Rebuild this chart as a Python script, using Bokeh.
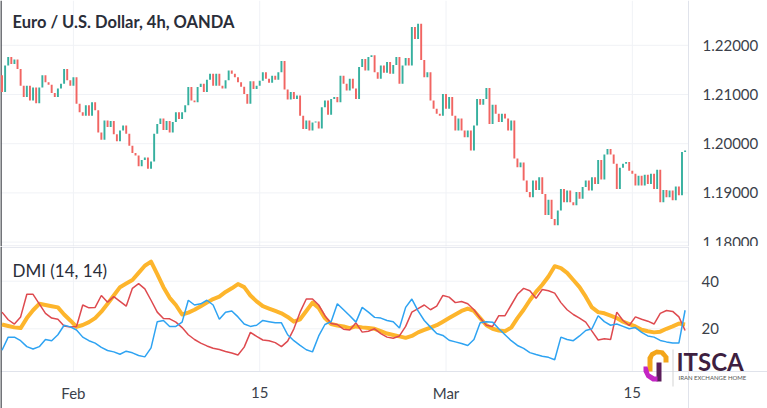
from bokeh.plotting import figure
from bokeh.layouts import column
from bokeh.models import ColumnDataSource, Label, Range1d
from bokeh.core.properties import value
from bokeh.embed import file_html
from bokeh.resources import INLINE

# ---------------- data (EUR/USD 4h) ----------------
first_open = 1.2139
close = [
    1.2105, 1.2159, 1.2176, 1.2162, 1.2171, 1.2152, 1.2118, 1.2095, 1.2118, 1.2088,
    1.2114, 1.2082, 1.2114, 1.2139, 1.2125, 1.2120, 1.2103, 1.2095, 1.2112, 1.2122,
    1.2152, 1.2129, 1.2118, 1.2135, 1.2081, 1.2064, 1.2057, 1.2078, 1.2057, 1.2084,
    1.2068, 1.2023, 1.2008, 1.2047, 1.2034, 1.2046, 1.2019, 1.2005, 1.2027, 1.2037,
    1.2020, 1.1996, 1.1981, 1.1976, 1.1954, 1.1967, 1.1972, 1.1949, 1.1964, 1.2020,
    1.2040, 1.2051, 1.2028, 1.2046, 1.2023, 1.2044, 1.2064, 1.2050, 1.2064, 1.2078,
    1.2115, 1.2088, 1.2084, 1.2115, 1.2122, 1.2105, 1.2130, 1.2142, 1.2118, 1.2142,
    1.2118, 1.2112, 1.2129, 1.2149, 1.2142, 1.2135, 1.2125, 1.2116, 1.2101, 1.2081,
    1.2127, 1.2111, 1.2118, 1.2128, 1.2145, 1.2132, 1.2124, 1.2138, 1.2130, 1.2145,
    1.2168, 1.2110, 1.2090, 1.2105, 1.2091, 1.2098, 1.2057, 1.2030, 1.2047, 1.2027,
    1.2043, 1.2045, 1.2031, 1.2074, 1.2088, 1.2059, 1.2091, 1.2095, 1.2084, 1.2138,
    1.2122, 1.2108, 1.2132, 1.2112, 1.2091, 1.2156, 1.2172, 1.2149, 1.2176, 1.2180,
    1.2145, 1.2132, 1.2159, 1.2144, 1.2166, 1.2142, 1.2160, 1.2176, 1.2122, 1.2159,
    1.2174, 1.2159, 1.2237, 1.2213, 1.2244, 1.2170, 1.2135, 1.2145, 1.2088, 1.2071,
    1.2061, 1.2057, 1.2101, 1.2071, 1.2095, 1.2057, 1.2027, 1.2051, 1.2027, 1.2013,
    1.2027, 1.1986, 1.2037, 1.2091, 1.2079, 1.2091, 1.2113, 1.2040, 1.2079, 1.2061,
    1.2044, 1.2061, 1.2051, 1.2027, 1.2047, 1.1970, 1.1952, 1.1962, 1.1925, 1.1902,
    1.1891, 1.1925, 1.1906, 1.1932, 1.1898, 1.1855, 1.1886, 1.1847, 1.1834, 1.1864,
    1.1908, 1.1881, 1.1905, 1.1881, 1.1875, 1.1902, 1.1888, 1.1912, 1.1925, 1.1905,
    1.1932, 1.1918, 1.1967, 1.1927, 1.1978, 1.1989, 1.1978, 1.1959, 1.1908, 1.1951,
    1.1959, 1.1963, 1.1945, 1.1939, 1.1915, 1.1935, 1.1915, 1.1937, 1.1918, 1.1939,
    1.1908, 1.1947, 1.1881, 1.1906, 1.1891, 1.1905, 1.1885, 1.1913, 1.1895, 1.1983,
    1.1986,
]

tick_bars = [23, 83, 143, 203]
tick_labels = ["Feb", "15", "Mar", "15"]
price_ticks = [1.18, 1.19, 1.20, 1.21, 1.22]
price_tick_labels = ["1.18000", "1.19000", "1.20000", "1.21000", "1.22000"]
dmi_ticks = [20, 40]
dmi_tick_labels = ["20", "40"]
dmi_step = 2  # DMI values read on every 2nd bar

adx = [
    21.8, 21.2, 20.6, 20.3, 24.5, 27.8, 30.5, 30.0, 29.5, 29.0,
    26.0, 23.5, 20.8, 21.6, 22.8, 24.5, 27.2, 30.5, 34.0, 37.5,
    39.0, 40.5, 43.5, 46.5, 48.2, 43.0, 37.5, 33.0, 30.0, 26.0,
    26.8, 28.0, 29.5, 31.0, 32.5, 33.5, 35.5, 37.0, 38.8, 37.5,
    34.0, 31.5, 29.5, 28.5, 27.5, 26.5, 25.0, 23.0, 24.0, 27.5,
    31.0, 28.8, 24.5, 22.0, 21.4, 21.0, 20.3, 21.0, 20.6, 20.3,
    20.0, 19.0, 18.0, 17.4, 16.8, 16.2, 17.0, 18.5, 19.5, 20.5,
    21.5, 23.0, 24.5, 26.0, 27.5, 28.5, 27.5, 24.5, 21.5, 20.0,
    19.3, 19.0, 20.5, 24.5, 28.0, 32.0, 35.5, 38.5, 42.0, 46.3,
    45.5, 43.5, 40.5, 37.5, 33.5, 29.0, 27.0, 26.5, 25.5, 24.5,
    23.0, 22.0, 21.0, 19.6, 19.0, 18.5, 18.8, 20.0, 21.0, 22.2,
    21.8,
]
plus_di = [
    11.0, 16.5, 16.5, 15.0, 12.5, 11.5, 12.5, 15.5, 15.0, 17.5,
    21.5, 20.8, 19.5, 16.5, 15.0, 14.0, 12.2, 10.9, 10.3, 9.3,
    10.6, 9.9, 8.8, 8.2, 12.0, 23.0, 23.5, 21.0, 21.0, 22.8,
    32.0, 30.0, 30.5, 32.0, 30.0, 24.0, 27.0, 27.5, 25.0, 22.0,
    21.0, 21.5, 23.5, 23.0, 22.5, 22.5, 17.5, 15.0, 13.0, 11.2,
    10.3, 17.0, 21.8, 23.0, 30.5, 28.0, 25.5, 22.8, 29.0, 27.0,
    24.8, 24.5, 23.5, 23.0, 20.3, 29.0, 32.5, 27.5, 23.5, 20.7,
    18.0, 17.2, 15.2, 14.5, 13.8, 13.0, 15.5, 22.5, 23.0, 22.8,
    20.0, 17.5, 15.0, 13.0, 11.8, 10.0, 9.2, 8.5, 8.0, 7.0,
    16.5, 15.5, 15.0, 17.0, 19.3, 20.0, 25.5, 23.0, 21.5, 22.0,
    21.0, 20.0, 20.5, 18.5, 17.0, 16.5, 15.1, 14.5, 14.0, 14.0,
    27.8,
]
minus_di = [
    27.0, 23.8, 22.0, 25.0, 34.5, 34.5, 30.5, 26.5, 24.5, 24.0,
    21.2, 20.8, 21.0, 30.0, 28.8, 29.0, 34.0, 31.2, 33.5, 31.5,
    29.5, 37.0, 39.0, 36.8, 32.0, 27.0, 24.3, 24.2, 22.8, 20.5,
    17.5, 15.5, 14.0, 12.8, 11.8, 11.3, 10.5, 9.8, 9.0, 12.3,
    18.5, 16.8, 15.3, 15.0, 14.2, 12.5, 14.8, 20.0, 27.0, 32.5,
    32.5, 30.0, 25.5, 22.2, 21.8, 19.8, 19.5, 22.5, 18.6, 19.0,
    20.0, 18.0, 16.5, 16.0, 17.0, 21.0, 27.0, 28.5, 30.0, 28.0,
    29.5, 34.0, 33.3, 31.0, 31.5, 30.5, 28.0, 24.5, 21.5, 21.0,
    25.5, 25.5, 30.0, 34.5, 37.0, 36.0, 32.8, 36.5, 36.0, 35.0,
    31.0, 28.0, 26.0, 24.5, 22.8, 19.0, 15.3, 15.8, 15.5, 27.0,
    23.5, 21.4, 25.0, 24.0, 23.2, 22.0, 26.5, 27.7, 27.3, 25.0,
    19.3,
]

# ---------------- derived tables ----------------
opens = [first_open] + close[:-1]
bars = list(range(len(close)))
up = dict(x=[], top=[], bottom=[])
dn = dict(x=[], top=[], bottom=[])
for b, o, c in zip(bars, opens, close):
    d = up if c >= o else dn
    d["x"].append(b)
    d["top"].append(max(o, c))
    d["bottom"].append(min(o, c))
dmi_x = [i * dmi_step for i in range(len(adx))]
dmi_src = ColumnDataSource(dict(x=dmi_x, adx=adx, pdi=plus_di, mdi=minus_di))

# ---------------- geometry / styling ----------------
FONT = "Lato"
GRID = "#f0f2f6"
AXLINE = "#e0e3eb"
TXT = "#2a2e39"
LBL = "#3b3f4a"
DARK = "#3a3d44"
W = 767
PX_PER_BAR = 3.105
BAR0_PX = 1.5
PANE_PX = 688          # right edge of the plotting panes (price scale starts here)
SPLIT = 246            # page y where the DMI pane starts


def bx(px):            # horizontal pixel -> bar index
    return (px - BAR0_PX) / PX_PER_BAR


def pv(py):            # page y pixel -> price (1.21 at y=94, 49.2 px per 0.01)
    return 1.21 + (94 - py) / 4920


def dv(py):            # page y pixel -> DMI value (20 at y=328.3, 2.38 px per unit)
    return 20 + (328.3 - py) / 2.38


X0, X1, XW = bx(0), bx(PANE_PX), bx(W)


def base(height, ylo, yhi):
    f = figure(width=W, height=height, x_range=Range1d(X0, XW), y_range=Range1d(ylo, yhi),
               output_backend="svg", toolbar_location=None, x_axis_location=None,
               y_axis_location=None, min_border_left=0, min_border_right=0,
               min_border_top=0, min_border_bottom=0)
    f.outline_line_color = None
    f.background_fill_color = "white"
    f.border_fill_color = "white"
    f.grid.visible = False
    return f


# ---------------- price pane ----------------
P_TOP, P_BOT = pv(0), pv(SPLIT)
p1 = base(SPLIT, P_BOT, P_TOP)
n = len(price_ticks)
p1.segment(x0=[X0] * n, x1=[X1] * n, y0=price_ticks, y1=price_ticks, line_color=GRID, line_width=1)
p1.segment(x0=tick_bars, x1=tick_bars, y0=[P_BOT] * 4, y1=[P_TOP] * 4, line_color=GRID, line_width=1)
p1.segment(x0=[X1], x1=[X1], y0=[P_BOT], y1=[P_TOP], line_color=AXLINE, line_width=1)
p1.segment(x0=[X0], x1=[X1], y0=[pv(245.5)], y1=[pv(245.5)], line_color=AXLINE, line_width=1)
p1.segment(x0=[X0 + 0.15], x1=[X0 + 0.15], y0=[P_BOT], y1=[P_TOP], line_color=DARK, line_width=1.5)

p1.vbar(x="x", width=0.62, top="top", bottom="bottom", source=ColumnDataSource(up),
        fill_color="#36b09f", line_color=None)
p1.vbar(x="x", width=0.62, top="top", bottom="bottom", source=ColumnDataSource(dn),
        fill_color="#f16562", line_color=None)

p1.text(x=[bx(PANE_PX + 14)] * n, y=price_ticks, text=price_tick_labels,
        text_font=value(FONT), text_font_size="15px", text_color=LBL,
        text_baseline="middle", text_align="left")
p1.add_layout(Label(x=bx(12), y=pv(21), text="Euro / U.S. Dollar, 4h, OANDA",
                    text_font=FONT, text_font_size="16.5px", text_font_style="bold",
                    text_color=TXT, text_baseline="middle"))

# ---------------- DMI pane ----------------
VTOP, VBOT = dv(SPLIT), dv(408)
V_AXIS = dv(371)       # time-axis line
p2 = base(408 - SPLIT, VBOT, VTOP)
m = len(dmi_ticks)
p2.segment(x0=[X0] * m, x1=[X1] * m, y0=dmi_ticks, y1=dmi_ticks, line_color=GRID, line_width=1)
p2.segment(x0=tick_bars, x1=tick_bars, y0=[V_AXIS] * 4, y1=[VTOP] * 4, line_color=GRID, line_width=1)
p2.segment(x0=[X0], x1=[XW], y0=[V_AXIS], y1=[V_AXIS], line_color=AXLINE, line_width=1)
p2.segment(x0=[X1], x1=[X1], y0=[VBOT], y1=[VTOP], line_color=AXLINE, line_width=1)
p2.segment(x0=[X0], x1=[X1], y0=[dv(246.8)], y1=[dv(246.8)], line_color=AXLINE, line_width=1)
p2.segment(x0=[X0 + 0.15], x1=[X0 + 0.15], y0=[VBOT], y1=[VTOP], line_color=DARK, line_width=1.5)

p2.line("x", "adx", source=dmi_src, line_color="#fdb52c", line_width=4, line_join="round")
p2.line("x", "mdi", source=dmi_src, line_color="#de4a4f", line_width=1.5)
p2.line("x", "pdi", source=dmi_src, line_color="#2ea3f2", line_width=1.5)

p2.text(x=[bx(PANE_PX + 13)] * m, y=dmi_ticks, text=dmi_tick_labels,
        text_font=value(FONT), text_font_size="15px", text_color=LBL,
        text_baseline="middle", text_align="left")
p2.text(x=tick_bars, y=[dv(392)] * 4, text=tick_labels,
        text_font=value(FONT), text_font_size="15px", text_color=LBL,
        text_baseline="middle", text_align="center")
p2.add_layout(Label(x=bx(12), y=dv(270), text="DMI (14, 14)", text_font=FONT,
                    text_font_size="17px", text_color=TXT, text_baseline="middle"))


# ---------------- watermark logo (decoration) ----------------
def patch(pts, color):
    p2.patch([bx(a) for a, _ in pts], [dv(b) for _, b in pts], fill_color=color,
             line_color=None)


patch([(647, 371), (647, 357), (650, 352), (656, 349), (663, 350), (668, 356), (668, 362),
       (663, 362), (663, 357), (660, 354), (656, 354), (653, 356), (652, 359), (652, 371)],
      "#f3a51a")
patch([(656, 362), (661, 362), (661, 381), (656, 381)], "#5b1d5b")
patch([(643, 366), (647, 366), (649, 373), (654, 376), (657, 376), (657, 381), (652, 381),
       (646, 377), (643, 371)], "#c425c4")
patch([(672, 349), (673, 349), (673, 386), (672, 386)], "#d4d4d4")
p2.add_layout(Label(x=bx(676), y=dv(361), text="ITSCA", text_font=FONT,
                    text_font_size="24px", text_font_style="bold",
                    text_color="#3e1f40", text_baseline="middle"))
p2.add_layout(Label(x=bx(678), y=dv(376.5), text="IRAN EXCHANGE HOME", text_font=FONT,
                    text_font_size="6px", text_color="#555555", text_baseline="middle"))

layout = column(p1, p2, spacing=0)
open("out.html", "w").write(file_html(layout, INLINE))
